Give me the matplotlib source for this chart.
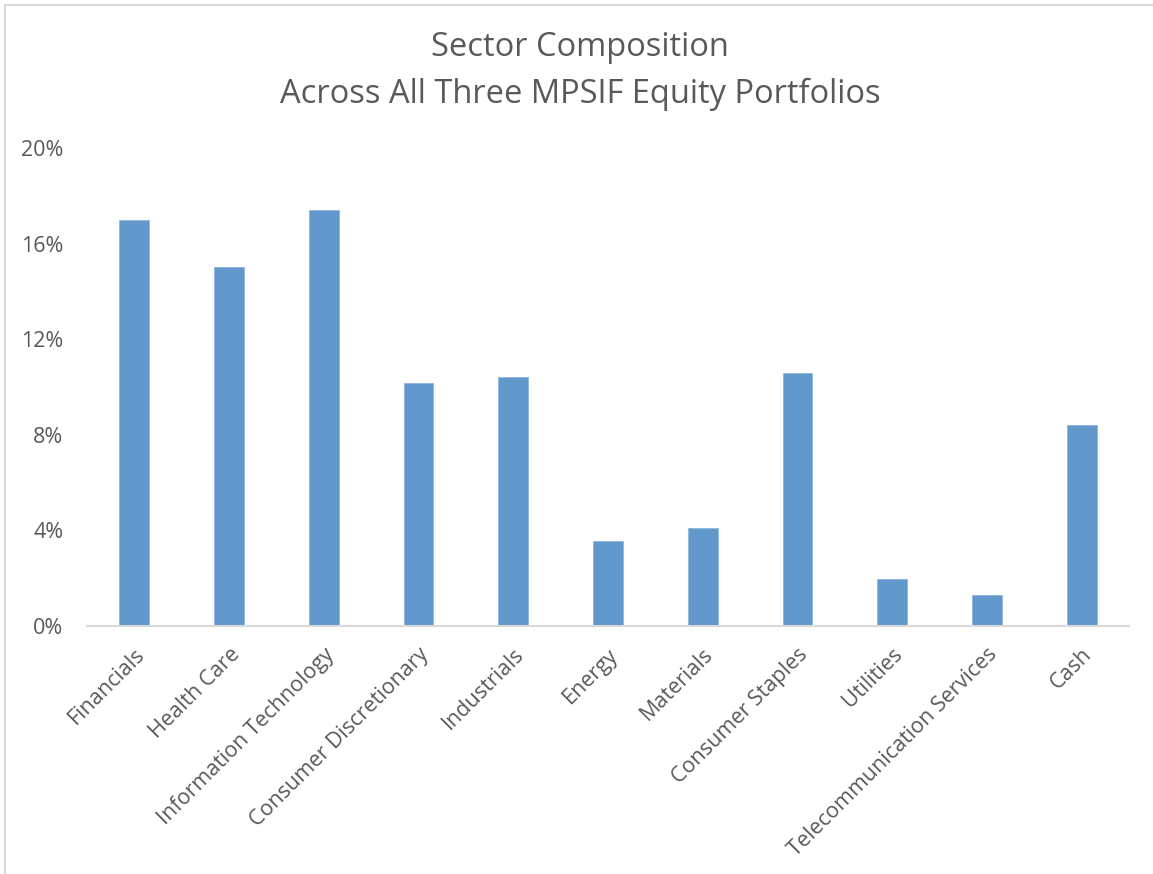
import matplotlib.pyplot as plt
from matplotlib.patches import Rectangle
from matplotlib.ticker import FuncFormatter

# sector weights across the three equity portfolios (percent)
sectors = ["Financials", "Health Care", "Information Technology",
           "Consumer Discretionary", "Industrials", "Energy", "Materials",
           "Consumer Staples", "Utilities", "Telecommunication Services", "Cash"]
weights = [17.0, 15.0, 17.4, 10.15, 10.4, 3.55, 4.1, 10.6, 1.95, 1.3, 8.4]

grey = "#595959"
plt.rcParams['font.family'] = ['Open Sans', 'DejaVu Sans']

fig = plt.figure(figsize=(11.53, 8.74), dpi=100)
ax = fig.add_axes([87/1153, 1 - 626/874, (1129-87)/1153, (626-148)/874])

x = range(len(sectors))
ax.bar(x, weights, width=0.315, color="#6298CC", edgecolor="#8DB6E0", linewidth=0.6)

ax.set_xlim(-0.5, len(sectors) - 0.5)
ax.set_ylim(0, 20)
ax.set_yticks([0, 4, 8, 12, 16, 20])
ax.yaxis.set_major_formatter(FuncFormatter(lambda v, p: f"{v:.0f}%"))
ax.set_xticks(list(x))
ax.set_xticklabels(sectors, rotation=45, ha="right", rotation_mode="anchor")

for s in ["top", "right", "left"]:
    ax.spines[s].set_visible(False)
ax.spines["bottom"].set_color("#D9D9D9")
ax.spines["bottom"].set_linewidth(1.5)
ax.tick_params(axis="both", length=0, colors=grey, labelsize=15.5)
ax.tick_params(axis="y", pad=17)
ax.tick_params(axis="x", pad=13)

fig.text(0.503, 1 - 48/874, "Sector Composition", ha="center", va="center",
         fontsize=23.5, color=grey)
fig.text(0.503, 1 - 94/874, "Across All Three MPSIF Equity Portfolios", ha="center",
         va="center", fontsize=23.5, color=grey)

# chart frame (left and top edges fall inside the image)
fig.patches.append(Rectangle((5/1153, -0.1), 1.2, 1 - 5/874 + 0.1, transform=fig.transFigure,
                             fill=False, edgecolor="#D9D9D9", linewidth=1.5))

fig.savefig("out.png", dpi=100, facecolor="white")
